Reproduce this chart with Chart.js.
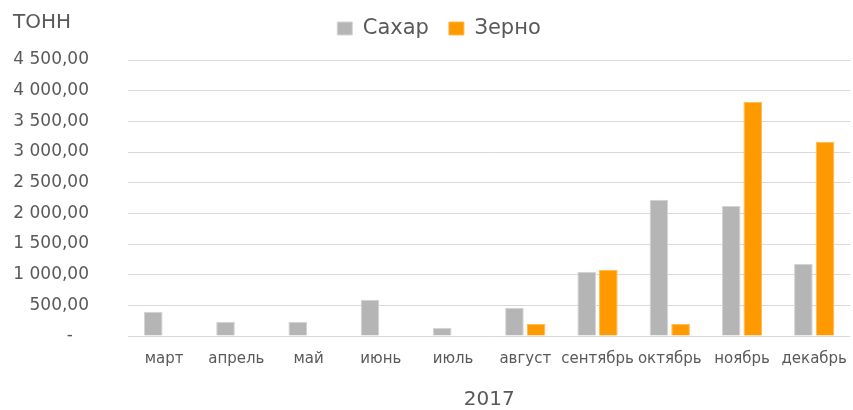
<!DOCTYPE html>
<html>
<head>
<meta charset="utf-8">
<script src="https://cdn.jsdelivr.net/npm/chart.js@4.4.1/dist/chart.umd.min.js"></script>
<style>
  html, body { margin: 0; padding: 0; background: #fff; }
  #wrap { width: 853px; height: 410px; position: relative; }
</style>
</head>
<body>
<div id="wrap"><canvas id="chart"></canvas></div>
<script>
// Данные (тонн), 2017
const months = ['март', 'апрель', 'май', 'июнь', 'июль', 'август', 'сентябрь', 'октябрь', 'ноябрь', 'декабрь'];
const sugar  = [396, 233, 233, 592, 135, 461, 1048, 2222, 2120, 1179];
const grain  = [0, 0, 0, 0, 0, 200, 1081, 200, 3820, 3168];
const yMax   = 4500;
const yStep  = 500;
const yearLabel = '2017';
const unitLabel = 'ТОНН';

const textColor = '#595959';
const gridColor = '#d9d9d9';

Chart.defaults.font.family = '"DejaVu Sans", sans-serif';
Chart.defaults.color = textColor;

// формат как в Excel: "4 500,00", ноль -> "-"
function fmt(v) {
    if (v === 0) return '-   ';
    const s = v.toFixed(2).replace('.', ',');
    const [int, dec] = s.split(',');
    return int.replace(/\B(?=(\d{3})+(?!\d))/g, ' ') + ',' + dec;
}

// подпись единиц в левом верхнем углу
const unitTitle = {
    id: 'unitTitle',
    afterDraw(chart) {
        const ctx = chart.ctx;
        ctx.save();
        ctx.font = '20px "DejaVu Sans", sans-serif';
        ctx.fillStyle = textColor;
        ctx.textBaseline = 'middle';
        ctx.textAlign = 'left';
        ctx.fillText(unitLabel, 13, 23);
        ctx.restore();
    }
};

// отступ под легендой и небольшой сдвиг вправо
const legendGap = {
    id: 'legendGap',
    beforeInit(chart) {
        const origFit = chart.legend.fit;
        chart.legend.fit = function () {
            origFit.bind(chart.legend)();
            this.height += 11;
        };
    },
    afterLayout(chart) {
        chart.legend.left += 13;
        chart.legend.right += 13;
    }
};

new Chart(document.getElementById('chart'), {
    type: 'bar',
    data: {
        labels: months,
        datasets: [
            {
                label: 'Сахар',
                data: sugar,
                backgroundColor: '#b5b5b5',
                borderColor: '#d4d4d4',
                borderWidth: 1
            },
            {
                label: 'Зерно',
                data: grain,
                backgroundColor: '#ff9900',
                borderColor: '#ffb84d',
                borderWidth: 1
            }
        ]
    },
    options: {
        responsive: true,
        maintainAspectRatio: false,
        animation: false,
        layout: { padding: { top: -2, right: 1, bottom: -2, left: 0 } },
        datasets: {
            bar: { categoryPercentage: 0.6, barPercentage: 0.86 }
        },
        plugins: {
            tooltip: { enabled: false },
            legend: {
                position: 'top',
                labels: {
                    boxWidth: 15,
                    boxHeight: 13,
                    padding: 20,
                    color: textColor,
                    font: { size: 21 }
                }
            }
        },
        scales: {
            x: {
                grid: { display: false },
                border: { display: false },
                ticks: {
                    color: textColor,
                    font: { size: 15 },
                    padding: 6,
                    maxRotation: 0,
                    autoSkip: false
                },
                title: {
                    display: true,
                    text: yearLabel,
                    color: textColor,
                    font: { size: 20 },
                    padding: { top: 14, bottom: 0 }
                }
            },
            y: {
                min: 0,
                max: yMax,
                border: { display: false },
                grid: { color: gridColor, lineWidth: 1, drawTicks: false },
                ticks: {
                    stepSize: yStep,
                    color: textColor,
                    font: { size: 17 },
                    padding: 39,
                    callback: v => fmt(v)
                },
                afterFit(axis) { axis.width = 128; }
            }
        }
    },
    plugins: [unitTitle, legendGap]
});
</script>
</body>
</html>
